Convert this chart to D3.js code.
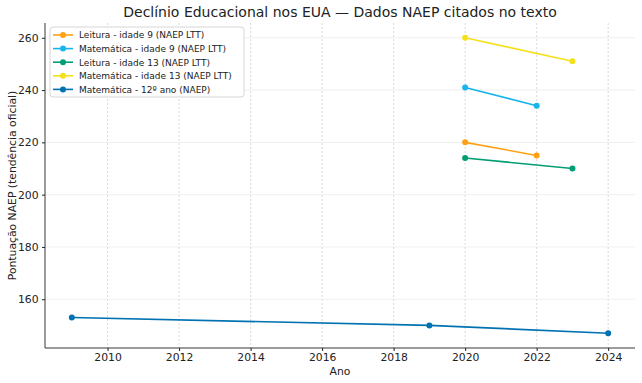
<!DOCTYPE html>
<html>
<head>
<meta charset="utf-8">
<script src="https://cdn.jsdelivr.net/npm/d3@7"></script>
<style>
  body { margin:0; background:#fff; }
  text { font-family: "DejaVu Sans", sans-serif; fill:#222; }
</style>
</head>
<body>
<svg id="chart" width="642" height="383"></svg>
<script>
// series (year, score)
const leitura9 = [[2020,220],[2022,215]]
const matematica9 = [[2020,241],[2022,234]]
const leitura13 = [[2020,214],[2023,210]]
const matematica13 = [[2020,260],[2023,251]]
const matematica12 = [[2009,153],[2019,150],[2024,147]]

const seriesNames = [
  'Leitura - idade 9 (NAEP LTT)',
  'Matemática - idade 9 (NAEP LTT)',
  'Leitura - idade 13 (NAEP LTT)',
  'Matemática - idade 13 (NAEP LTT)',
  'Matemática - 12º ano (NAEP)'
]
const seriesData = [leitura9, matematica9, leitura13, matematica13, matematica12]
const colors = ['#ffa114','#19b4ec','#009e73','#f5e11b','#0072b2']

const xTicks = [2010,2012,2014,2016,2018,2020,2022,2024]
const yTicks = [160,180,200,220,240,260]

const svg = d3.select('#chart')
const m = {l:45, r:7, t:23, b:35}
const W = 642, H = 383

const x = d3.scaleLinear().domain([2008.25, 2024.75]).range([m.l, W-m.r])
const y = d3.scaleLinear().domain([141.35, 265.65]).range([H-m.b, m.t])

// grid
svg.append('g').selectAll('line').data(xTicks).join('line')
  .attr('x1', d=>x(d)).attr('x2', d=>x(d))
  .attr('y1', m.t).attr('y2', H-m.b)
  .attr('stroke','#cfcfcf').attr('stroke-width',0.8).attr('stroke-dasharray','2,2')
svg.append('g').selectAll('line').data(yTicks).join('line')
  .attr('x1', m.l).attr('x2', W-m.r)
  .attr('y1', d=>y(d)).attr('y2', d=>y(d))
  .attr('stroke','#ebebeb').attr('stroke-width',0.8)

// axes
const xAxis = svg.append('g').attr('transform',`translate(0,${H-m.b})`)
  .call(d3.axisBottom(x).tickValues(xTicks).tickFormat(d3.format('d')).tickSize(3).tickPadding(2))
const yAxis = svg.append('g').attr('transform',`translate(${m.l},0)`)
  .call(d3.axisLeft(y).tickValues(yTicks).tickSize(3).tickPadding(3.5))
;[xAxis,yAxis].forEach(a=>{
  a.select('.domain').remove()
  a.selectAll('text').style('font-size','10.8px').style('fill','#222').attr('font-family','DejaVu Sans')
  a.selectAll('line').attr('stroke','#222')
})
svg.append('line').attr('x1',m.l).attr('x2',m.l).attr('y1',m.t).attr('y2',H-m.b).attr('stroke','#222').attr('stroke-width',0.9)
svg.append('line').attr('x1',m.l).attr('x2',W-m.r).attr('y1',H-m.b).attr('y2',H-m.b).attr('stroke','#222').attr('stroke-width',0.9)

// lines
const line = d3.line().x(d=>x(d[0])).y(d=>y(d[1]))
seriesData.forEach((s,i)=>{
  const g = svg.append('g')
  g.append('path').datum(s).attr('d', line)
    .attr('fill','none').attr('stroke', colors[i]).attr('stroke-width',1.6)
  g.selectAll('circle').data(s).join('circle')
    .attr('cx', d=>x(d[0])).attr('cy', d=>y(d[1])).attr('r',3)
    .attr('fill', colors[i])
})

// title + labels
svg.append('text').attr('x',(m.l+W-m.r)/2).attr('y',17).attr('text-anchor','middle')
  .style('font-size','14px').text('Declínio Educacional nos EUA — Dados NAEP citados no texto')
svg.append('text').attr('x',(m.l+W-m.r)/2).attr('y',375).attr('text-anchor','middle')
  .style('font-size','10.8px').text('Ano')
svg.append('text').attr('transform',`translate(16,${(m.t+H-m.b)/2}) rotate(-90)`)
  .attr('text-anchor','middle').style('font-size','10.8px').text('Pontuação NAEP (tendência oficial)')

// legend
const lg = svg.append('g').attr('transform','translate(50,27)')
lg.append('rect').attr('width',194).attr('height',70).attr('rx',3)
  .attr('fill','#fff').attr('fill-opacity',0.85).attr('stroke','#d6d6d6')
seriesNames.forEach((n,i)=>{
  const yy = 8 + i*13.6
  lg.append('line').attr('x1',3).attr('x2',23).attr('y1',yy).attr('y2',yy)
    .attr('stroke',colors[i]).attr('stroke-width',1.6)
  lg.append('circle').attr('cx',13).attr('cy',yy).attr('r',3).attr('fill',colors[i])
  lg.append('text').attr('x',29).attr('y',yy+3.3).style('font-size','9px').text(n)
})
</script>
</body>
</html>
